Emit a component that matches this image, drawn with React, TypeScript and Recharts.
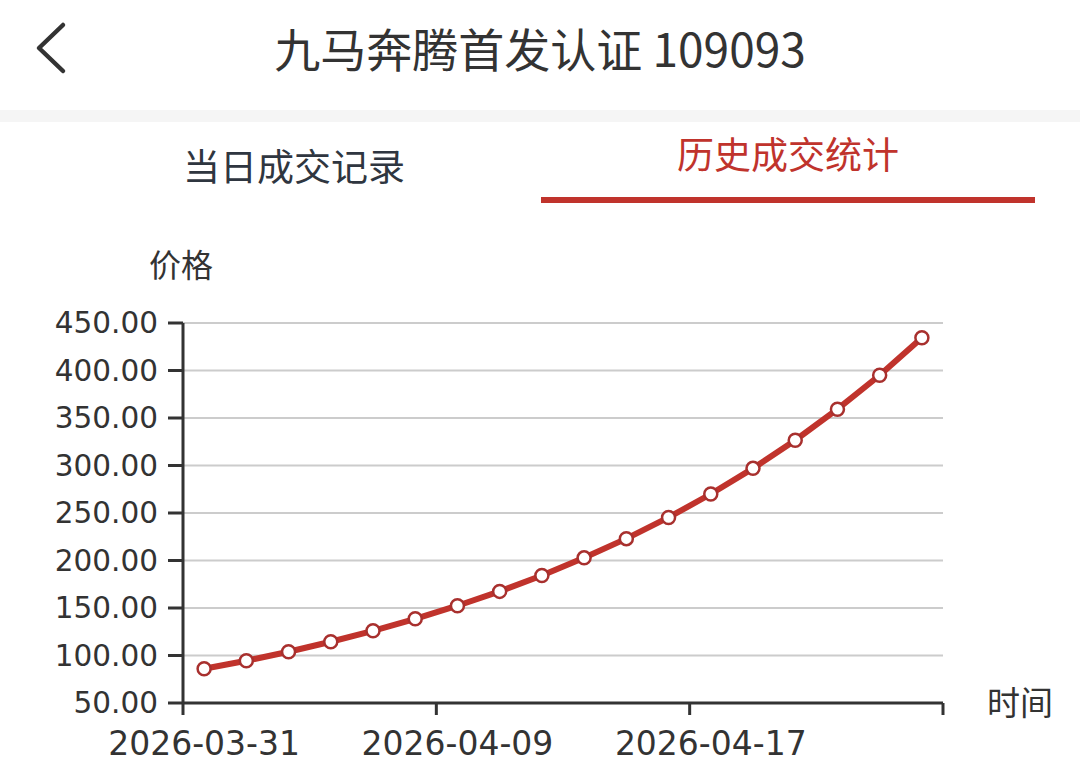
import React from "react";
import { LineChart, Line, XAxis, YAxis, CartesianGrid } from "recharts";

const dates = [
  "2026-03-31", "2026-04-01", "2026-04-02", "2026-04-03", "2026-04-07", "2026-04-08",
  "2026-04-09", "2026-04-10", "2026-04-13", "2026-04-14", "2026-04-15", "2026-04-16",
  "2026-04-17", "2026-04-20", "2026-04-21", "2026-04-22", "2026-04-23", "2026-04-24",
];
const prices = [
  86.0, 94.5, 104.0, 114.5, 126.0, 138.6, 152.4, 167.5, 184.2, 202.8, 223.0, 245.3,
  270.0, 297.0, 326.6, 359.3, 395.0, 434.5,
];
const yTicks = [50, 100, 150, 200, 250, 300, 350, 400, 450];
const xBoundaryTicks = [-0.5, 5.5, 11.5, 17.5];
const xLabelTicks = [0, 6, 12];
const xDomain = [-0.5, 17.5];

const RED = "#c0332c";
const DOT_RED = "#a8302e";
const TEXT = "#333333";
const CJK = '"Noto Sans CJK SC", "Noto Sans", sans-serif';
const NUM = '"DejaVu Sans", sans-serif';

const chartData = dates.map((d, i) => ({ idx: i, date: d, price: prices[i] }));

const abs = (s: React.CSSProperties): React.CSSProperties => ({ position: "absolute", ...s });

const EmptyTick = () => <g />;

export default function App() {
  return (
    <div style={abs({ top: 0, left: 0, width: 1080, height: 784, background: "#fff", overflow: "hidden", fontFamily: CJK, color: TEXT })}>
      <svg style={abs({ left: 0, top: 0 })} width={100} height={100}>
        <polyline points="63,25 39,48 63,71" fill="none" stroke={TEXT} strokeWidth={4.5} strokeLinecap="round" strokeLinejoin="round" />
      </svg>
      <div style={abs({ left: 0, width: 1080, top: 23, height: 48, lineHeight: "48px", fontSize: 46, textAlign: "center", color: TEXT })}>
        九马奔腾首发认证 109093
      </div>
      <div style={abs({ left: 0, width: 1080, top: 110, height: 12, background: "#f5f5f5" })} />
      <div style={abs({ left: 94, width: 400, top: 146, height: 38, lineHeight: "38px", fontSize: 37, textAlign: "center", color: "#2f3640" })}>
        当日成交记录
      </div>
      <div style={abs({ left: 588, width: 400, top: 134, height: 38, lineHeight: "38px", fontSize: 37, textAlign: "center", color: RED })}>
        历史成交统计
      </div>
      <div style={abs({ left: 541, width: 494, top: 197, height: 6, background: RED })} />
      <div style={abs({ left: 131, width: 100, top: 247, height: 32, lineHeight: "32px", fontSize: 32, textAlign: "center", color: TEXT })}>
        价格
      </div>
      <div style={abs({ left: 987, width: 80, top: 685, height: 33, lineHeight: "33px", fontSize: 33, color: TEXT })}>
        时间
      </div>
      <div style={abs({ left: 0, top: 0 })}>
        <LineChart width={1080} height={784} data={chartData} margin={{ top: 323, right: 137, bottom: 0, left: 0 }}>
          <CartesianGrid vertical={false} stroke="#cccccc" strokeWidth={2} />
          <YAxis
            type="number"
            domain={[50, 450]}
            ticks={yTicks}
            interval={0}
            width={183}
            tickFormatter={(v: number) => v.toFixed(2)}
            axisLine={{ stroke: TEXT, strokeWidth: 3 }}
            tickLine={{ stroke: TEXT, strokeWidth: 3 }}
            tickSize={15}
            tickMargin={10}
            tick={{ fill: TEXT, fontSize: 29.5, fontFamily: NUM }}
          />
          <XAxis
            xAxisId={0}
            dataKey="idx"
            type="number"
            domain={xDomain}
            ticks={xBoundaryTicks}
            interval={0}
            height={1}
            tick={EmptyTick}
            axisLine={{ stroke: TEXT, strokeWidth: 3 }}
            tickLine={{ stroke: TEXT, strokeWidth: 3 }}
            tickSize={12}
          />
          <XAxis
            xAxisId="labels"
            dataKey="idx"
            type="number"
            domain={xDomain}
            ticks={xLabelTicks}
            interval={0}
            height={80}
            axisLine={false}
            tickLine={false}
            tickSize={0}
            tickMargin={28}
            tickFormatter={(v: number) => dates[v] ?? ""}
            tick={{ fill: TEXT, fontSize: 33, fontFamily: NUM }}
          />
          <Line
            xAxisId={0}
            dataKey="price"
            type="linear"
            stroke={RED}
            strokeWidth={6}
            dot={{ r: 6.5, fill: "#fff", stroke: DOT_RED, strokeWidth: 2.5 }}
            isAnimationActive={false}
          />
        </LineChart>
      </div>
    </div>
  );
}
